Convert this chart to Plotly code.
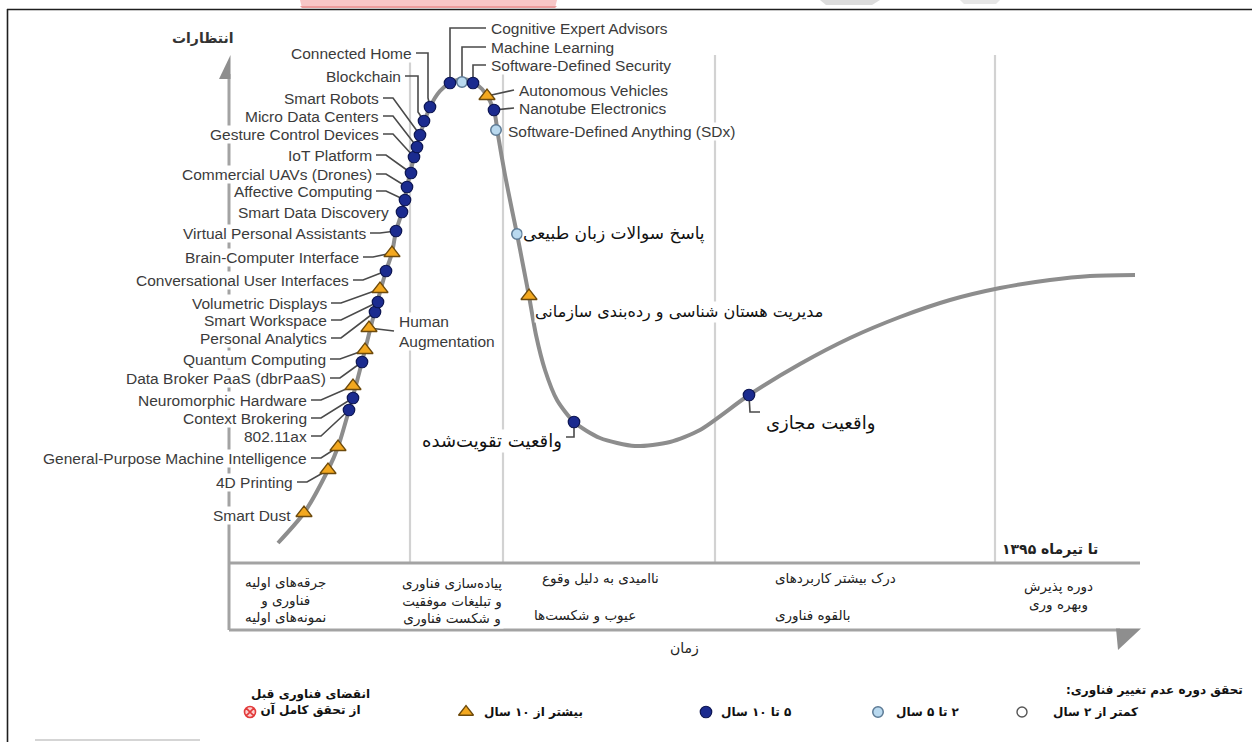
import plotly.graph_objects as go

W, H = 1252, 742

# ---------------- data ----------------
# Hype curve: time position (x) and expectation level (y)
curve_time = [278, 304, 328, 338, 349, 356, 365, 372, 380, 386, 392, 396, 402, 407, 414,
              420, 430, 440, 450, 462, 473, 482, 490, 495, 498, 505, 512, 517, 523, 529,
              536, 545, 557, 574, 600, 635, 670, 700, 749, 800, 850, 900, 950, 1000, 1050,
              1090, 1135]
curve_expect = [199, 229, 272, 295, 332, 357, 392, 420, 450, 471, 489, 511, 530, 555, 585,
                607, 635, 651, 659, 663, 660, 653, 641, 627, 607, 567, 532, 508, 477, 446,
                407, 372, 342, 320, 304, 296, 300, 312, 347, 378, 404, 425, 442, 454, 462,
                466, 467]

tech_names = [
    "Smart Dust", "4D Printing", "General-Purpose Machine Intelligence", "802.11ax",
    "Context Brokering", "Neuromorphic Hardware", "Data Broker PaaS (dbrPaaS)",
    "Quantum Computing", "Human<br>Augmentation", "Personal Analytics", "Smart Workspace",
    "Volumetric Displays", "Conversational User Interfaces", "Brain-Computer Interface",
    "Virtual Personal Assistants", "Smart Data Discovery", "Affective Computing",
    "Commercial UAVs (Drones)", "IoT Platform", "Gesture Control Devices",
    "Micro Data Centers", "Smart Robots", "Blockchain", "Connected Home",
    "Cognitive Expert Advisors", "Machine Learning", "Software-Defined Security",
    "Autonomous Vehicles", "Nanotube Electronics", "Software-Defined Anything (SDx)",
    "پاسخ سوالات زبان طبیعی", "مدیریت هستان شناسی و رده‌بندی سازمانی",
    "واقعیت تقویت‌شده", "واقعیت مجازی",
]
tech_time = [304, 328, 338, 349, 353, 353, 362, 365, 369, 375, 378, 380, 386, 392, 396,
             402, 405, 407, 411, 414, 417, 420, 424, 430, 450, 462, 473, 487, 494, 496,
             517, 529, 574, 749]
tech_expect = [229, 272, 295, 332, 344, 356, 380, 392, 414, 430, 440, 453, 471, 489, 511,
               530, 542, 555, 569, 585, 595, 607, 621, 635, 659, 660, 659, 646, 632, 612,
               508, 446, 320, 347]
tech_maturity = ["10+", "10+", "10+", "5-10", "5-10", "10+", "5-10", "10+", "10+", "5-10",
                 "5-10", "10+", "5-10", "10+", "5-10", "5-10", "5-10", "5-10", "5-10", "5-10",
                 "5-10", "5-10", "5-10", "5-10", "5-10", "2-5", "5-10", "10+", "5-10", "2-5",
                 "2-5", "10+", "5-10", "5-10"]

phase_labels = [
    "جرقه‌های اولیه<br>فناوری و<br>نمونه‌های اولیه",
    "پیاده‌سازی فناوری<br>و تبلیغات موفقیت<br>و شکست فناوری",
    "ناامیدی به دلیل وقوع",
    "عیوب و شکست‌ها",
    "درک بیشتر کاربردهای",
    "بالقوه فناوری",
    "دوره پذیرش<br>وبهره وری",
]
legend_title = "تحقق دوره عدم تغییر فناوری:"
legend_labels = ["کمتر از ۲ سال", "۲ تا ۵ سال", "۵ تا ۱۰ سال", "بیشتر از ۱۰ سال",
                 "انقضای فناوری قبل<br>از تحقق کامل آن"]
y_title = "انتظارات"
x_title = "زمان"
date_note = "تا تیرماه ۱۳۹۵"

# ---------------- layout helpers ----------------
def E(py):
    """screen row (pixels from top) -> expectation axis value"""
    return H - py


def rtl(s):
    """mark every line as right-to-left so digits and punctuation sit correctly"""
    return "<br>".join("\u200f" + part + "\u200f" for part in s.split("<br>"))


EN = "Liberation Sans, Arial, sans-serif"
FA = "DejaVu Sans, sans-serif"
GRID = "#d2d2d2"
AXIS = "#a3a3a3"
CURVE = "#8d8d8d"
LEAD = "#4a4a4a"
TXT = "#3b3b3b"

# label placement: (text x, text row, anchor, leader kind, extra, font size)
label_layout = {
    "Smart Dust": (292, 515, "right", "none", None, 15.5),
    "4D Printing": (294, 482, "right", "hook", None, 15.5),
    "General-Purpose Machine Intelligence": (308, 458, "right", "hook", None, 15.5),
    "802.11ax": (308, 436, "right", "hook", None, 15.5),
    "Context Brokering": (308, 418, "right", "hook", None, 15.5),
    "Neuromorphic Hardware": (308, 400, "right", "hook", None, 15.5),
    "Data Broker PaaS (dbrPaaS)": (327, 378, "right", "hook", None, 15.5),
    "Quantum Computing": (327, 359, "right", "hook", None, 15.5),
    "Human<br>Augmentation": (398, 331, "left", "straight", None, 15.5),
    "Personal Analytics": (328, 338, "right", "hook", None, 15.5),
    "Smart Workspace": (328, 320, "right", "hook", None, 15.5),
    "Volumetric Displays": (328, 303, "right", "hook", None, 15.5),
    "Conversational User Interfaces": (350, 280, "right", "hook", None, 15.5),
    "Brain-Computer Interface": (360, 257, "right", "hook", None, 15.5),
    "Virtual Personal Assistants": (367, 233, "right", "hook", None, 15.5),
    "Smart Data Discovery": (390, 212, "right", "none", None, 15.5),
    "Affective Computing": (373, 191, "right", "hook", None, 15.5),
    "Commercial UAVs (Drones)": (373, 174, "right", "hook", None, 15.5),
    "IoT Platform": (373, 155, "right", "hook", None, 15.5),
    "Gesture Control Devices": (380, 134, "right", "hook", None, 15.5),
    "Micro Data Centers": (380, 116, "right", "hook", None, 15.5),
    "Smart Robots": (380, 98, "right", "hook", None, 15.5),
    "Blockchain": (402, 76, "right", "elbow", 418, 15.5),
    "Connected Home": (413, 53, "right", "elbow", 428, 15.5),
    "Cognitive Expert Advisors": (490, 28, "left", "elbow_r", None, 15.5),
    "Machine Learning": (490, 47, "left", "elbow_r", None, 15.5),
    "Software-Defined Security": (490, 65, "left", "elbow_r", None, 15.5),
    "Autonomous Vehicles": (518, 90, "left", "straight", None, 15.5),
    "Nanotube Electronics": (518, 108, "left", "straight", None, 15.5),
    "Software-Defined Anything (SDx)": (507, 131, "left", "none", None, 15.5),
    "پاسخ سوالات زبان طبیعی": (522, 233, "left", "none", None, 17),
    "مدیریت هستان شناسی و رده‌بندی سازمانی": (534, 312, "left", "none", None, 16),
    "واقعیت تقویت‌شده": (563, 441, "right", "drop", 437, 18),
    "واقعیت مجازی": (765, 423, "left", "drop", 412, 18),
}

fig = go.Figure()
shapes = []


def hline(x0, x1, py, color, width, layer="below"):
    shapes.append(dict(type="line", xref="x", yref="y", x0=x0, x1=x1, y0=E(py), y1=E(py),
                       line=dict(color=color, width=width), layer=layer))


def vline(x, py0, py1, color, width, layer="below"):
    shapes.append(dict(type="line", xref="x", yref="y", x0=x, x1=x, y0=E(py0), y1=E(py1),
                       line=dict(color=color, width=width), layer=layer))


def poly(pts, color, layer="below"):
    path = "M " + " L ".join(f"{x},{E(py)}" for x, py in pts) + " Z"
    shapes.append(dict(type="path", xref="x", yref="y", path=path, fillcolor=color,
                       line=dict(width=0), layer=layer))

# watermark fragments and frame
poly([(300, 0), (557, 0), (555, 8), (302, 8)], "#f7c7c7")
poly([(300, 6), (557, 6), (555, 8), (302, 8)], "#ec9d9d")
poly([(820, 0), (880, 0), (872, 5), (826, 5)], "#dcdcdc")
poly([(960, 0), (1000, 0), (996, 4), (964, 4)], "#e6e6e6")
hline(7, W, 9.5, "#1e1e1e", 1.6, "above")
vline(7.5, 9, H, "#1e1e1e", 1.6, "above")
hline(35, 200, 740, "#d5d5d5", 2)

# phase dividers
for xd in [410, 503, 715, 995]:
    vline(xd, 55, 563, GRID, 2.2)
# axes
vline(229, 74, 630, AXIS, 3)
poly([(230.5, 55), (230.5, 79), (219, 79)], "#8e8e8e")
hline(229, 1140, 563, AXIS, 3)
hline(229, 1120, 630, AXIS, 3)
poly([(1116, 628.5), (1141, 628.5), (1118, 650)], "#8e8e8e")

# ---------------- traces ----------------
fig.add_trace(go.Scatter(x=curve_time, y=curve_expect, mode="lines",
                         line=dict(color=CURVE, width=4, shape="spline", smoothing=0.7),
                         hoverinfo="skip", showlegend=False))

# leader lines
lx_all, ly_all = [], []
for name, mx, me in zip(tech_names, tech_time, tech_expect):
    tx, tpy, anchor, kind, extra, _ = label_layout[name]
    my = H - me  # marker row
    pts = []
    if kind == "hook":
        pts = [(tx + 3, tpy), (tx + 13, tpy), (mx, my)]
    elif kind == "elbow":
        pts = [(tx + 3, tpy), (extra, tpy), (extra, my - 9), (mx, my)]
    elif kind == "elbow_r":
        pts = [(tx - 4, tpy), (mx, tpy), (mx, my)]
    elif kind == "straight":
        pts = [(mx, my), (tx - 4, tpy)] if anchor == "left" else [(tx + 4, tpy), (mx, my)]
    elif kind == "drop":
        if anchor == "right":
            pts = [(mx, my), (mx, extra), (tx + 3, extra)]
        else:
            pts = [(mx, my), (mx + 1, extra), (tx - 5, extra)]
    if pts:
        for x, py in pts:
            lx_all.append(x)
            ly_all.append(E(py))
        lx_all.append(None)
        ly_all.append(None)
fig.add_trace(go.Scatter(x=lx_all, y=ly_all, mode="lines",
                         line=dict(color=LEAD, width=1.6), hoverinfo="skip", showlegend=False))

marker_style = {
    "<2": dict(symbol="circle", size=10, color="white", line=dict(color="#555", width=1.4)),
    "2-5": dict(symbol="circle", size=10.5, color="#b9d9ef", line=dict(color="#5c7a95", width=1.5)),
    "5-10": dict(symbol="circle", size=11.5, color="#1b2b8f", line=dict(color="#0c1552", width=1.2)),
    "10+": dict(symbol="triangle-up", size=14, color="#f3a81f", line=dict(color="#6d4a0c", width=1.3)),
    "obs": dict(symbol="circle-x", size=11, color="#fbd0d0", line=dict(color="#e23b3b", width=1.6)),
}
for cat in ["2-5", "5-10", "10+"]:
    xs = [t for t, c in zip(tech_time, tech_maturity) if c == cat]
    ys = [e for e, c in zip(tech_expect, tech_maturity) if c == cat]
    fig.add_trace(go.Scatter(x=xs, y=ys, mode="markers", marker=marker_style[cat],
                             hoverinfo="skip", showlegend=False))

# ---------------- annotations ----------------
ann = []
for name in tech_names:
    tx, tpy, anchor, kind, extra, fs = label_layout[name]
    persian = not name[0].isascii()
    ann.append(dict(x=tx, y=E(tpy), xref="x", yref="y",
                    text=rtl(name) if persian else name, showarrow=False,
                    xanchor=anchor, yanchor="middle", align="left",
                    bgcolor="white", borderpad=0,
                    font=dict(family=FA if persian else EN, size=fs,
                              color="#111" if persian else TXT)))

ann.append(dict(x=203, y=E(38), text=rtl(y_title), showarrow=False, xanchor="center",
                yanchor="middle", font=dict(family=FA, size=14, color="#333", weight="bold")))
ann.append(dict(x=684, y=E(648), text=rtl(x_title), showarrow=False, xanchor="center",
                yanchor="middle", font=dict(family=FA, size=14, color="#222")))
ann.append(dict(x=1050, y=E(549), text=rtl(date_note), showarrow=False, xanchor="center",
                yanchor="middle", font=dict(family=FA, size=14, color="#222", weight="bold")))

phase_pos = [(285, 600), (452, 601), (600, 578), (585, 615), (835, 578), (812, 615), (1058, 595)]
for txt, (px, py) in zip(phase_labels, phase_pos):
    ann.append(dict(x=px, y=E(py), text=rtl(txt), showarrow=False, xanchor="center",
                    yanchor="middle", align="center", bgcolor="white", borderpad=1,
                    font=dict(family=FA, size=13.5, color="#222")))

# legend
ann.append(dict(x=1245, y=E(690), text=rtl(legend_title), showarrow=False, xanchor="right",
                yanchor="middle", font=dict(family=FA, size=12, color="#111", weight="bold")))
leg_text_x = [1140, 962, 793, 585, 372]
leg_marker_x = [1022, 878, 706, 466, 250]
leg_cats = ["<2", "2-5", "5-10", "10+", "obs"]
for lab, tx in zip(legend_labels, leg_text_x):
    ann.append(dict(x=tx, y=E(702 if "<br>" in lab else 712), text=rtl(lab), showarrow=False,
                    xanchor="right", yanchor="middle", align="center",
                    font=dict(family=FA, size=12, color="#111", weight="bold")))
for cat, mx in zip(leg_cats, leg_marker_x):
    st = dict(marker_style[cat])
    if cat == "10+":
        st["size"] = 13
    fig.add_trace(go.Scatter(x=[mx], y=[E(712)], mode="markers", marker=st,
                             hoverinfo="skip", showlegend=False))

fig.update_layout(
    width=W, height=H, margin=dict(l=0, r=0, t=0, b=0),
    paper_bgcolor="white", plot_bgcolor="white",
    xaxis=dict(range=[0, W], visible=False, fixedrange=True),
    yaxis=dict(range=[0, H], visible=False, fixedrange=True),
    shapes=shapes, annotations=ann, showlegend=False,
)
fig.write_html("out.html")
